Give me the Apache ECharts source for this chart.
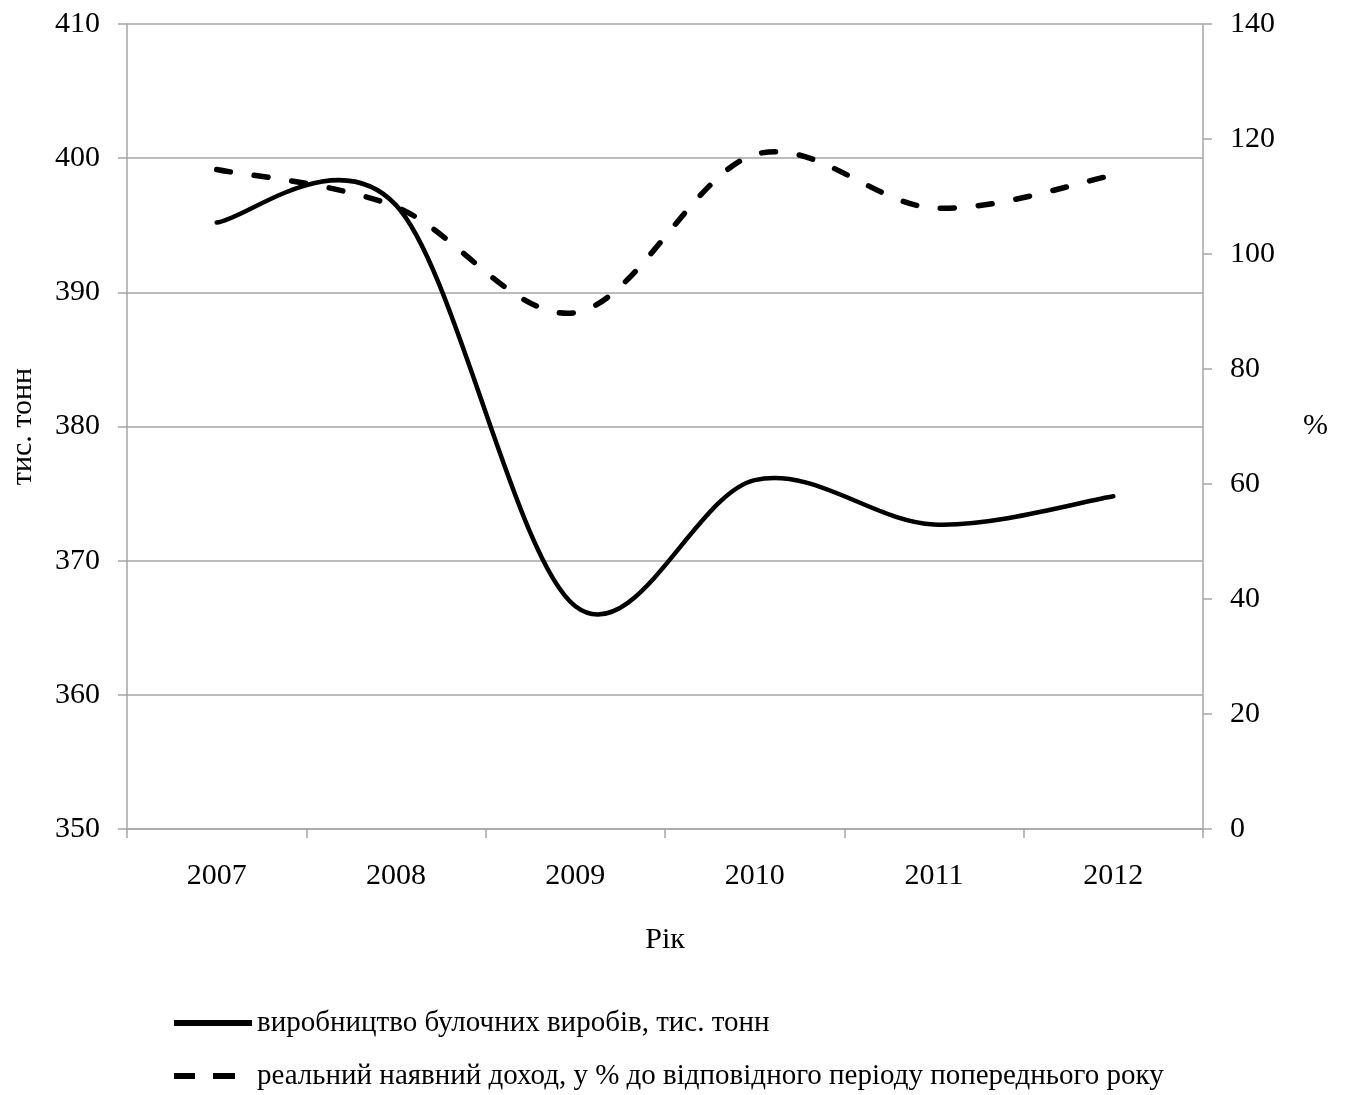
<!DOCTYPE html>
<html>
<head>
<meta charset="utf-8">
<script src="https://cdn.jsdelivr.net/npm/echarts@6/dist/echarts.min.js"></script>
<style>
html,body{margin:0;padding:0;background:#fff;}
#chart{width:1347px;height:1095px;}
</style>
</head>
<body>
<div id="chart"></div>
<script>
const years = ['2007','2008','2009','2010','2011','2012'];
const production = [395.2, 396.5, 366.6, 376.0, 372.7, 374.8];
const income = [114.7, 108.2, 89.8, 117.3, 108.0, 113.7];
const leftTicks = {min: 350, max: 410, interval: 10};
const rightTicks = {min: 0, max: 140, interval: 20};
const seriesNames = ['виробництво булочних виробів, тис. тонн', 'реальний наявний доход, у % до відповідного періоду попереднього року'];

const FONT = 'Liberation Serif';
const GRAY = '#a6a6a6';

// Smooth curve (Catmull-Rom / Excel-style) through the data, positioned via the chart's own scales.
function smoothRenderer(values, lineStyle) {
  return function (params, api) {
    if (params.dataIndex !== 0) return null;
    const pts = values.map(function (v, i) { return api.coord([i, v]); });
    const n = pts.length;
    let d = 'M' + pts[0][0] + ',' + pts[0][1];
    for (let i = 0; i < n - 1; i++) {
      const p0 = pts[Math.max(i - 1, 0)], p1 = pts[i], p2 = pts[i + 1], p3 = pts[Math.min(i + 2, n - 1)];
      const c1x = p1[0] + (p2[0] - p0[0]) / 6, c1y = p1[1] + (p2[1] - p0[1]) / 6;
      const c2x = p2[0] - (p3[0] - p1[0]) / 6, c2y = p2[1] - (p3[1] - p1[1]) / 6;
      d += 'C' + c1x + ',' + c1y + ',' + c2x + ',' + c2y + ',' + p2[0] + ',' + p2[1];
    }
    return {
      type: 'path',
      shape: {pathData: d},
      style: Object.assign({fill: null, stroke: '#000'}, lineStyle)
    };
  };
}

const legendCommon = {
  left: 174, padding: 0, itemWidth: 78, itemHeight: 6, itemGap: 0,
  textStyle: {fontFamily: FONT, fontSize: 29, color: '#000', lineHeight: 30},
  selectedMode: false
};

const chart = echarts.init(document.getElementById('chart'));
chart.setOption({
  backgroundColor: '#fff',
  animation: false,
  textStyle: {fontFamily: FONT, color: '#000'},
  grid: {left: 127, right: 144, top: 24, bottom: 266, containLabel: false, outerBoundsMode: 'none'},
  legend: [
    Object.assign({}, legendCommon, {
      top: 1008,
      data: [{name: seriesNames[0], icon: 'rect', itemStyle: {color: '#000'}}]
    }),
    Object.assign({}, legendCommon, {
      top: 1061,
      data: [{name: seriesNames[1], icon: 'path://M0,0H21V6H0Z M39,0H61V6H39Z M77.9,3H78V3.001H77.9Z', itemStyle: {color: '#000'}}]
    })
  ],
  xAxis: {
    type: 'category', data: years, boundaryGap: true,
    name: 'Рік', nameLocation: 'middle', nameGap: 96,
    nameTextStyle: {fontFamily: FONT, fontSize: 30, color: '#000'},
    axisLine: {lineStyle: {color: GRAY, width: 1.5}},
    axisTick: {show: true, interval: 0, length: 9, lineStyle: {color: GRAY, width: 1.5}},
    axisLabel: {fontFamily: FONT, fontSize: 30, color: '#000', margin: 32, interval: 0}
  },
  yAxis: [
    {
      type: 'value', position: 'left', min: leftTicks.min, max: leftTicks.max, interval: leftTicks.interval,
      name: 'тис. тонн', nameLocation: 'middle', nameGap: 89, nameRotate: 90,
      nameTextStyle: {fontFamily: FONT, fontSize: 30, color: '#000'},
      axisLine: {show: true, lineStyle: {color: GRAY, width: 1.5}},
      axisTick: {show: true, length: 9, lineStyle: {color: GRAY, width: 1.5}},
      axisLabel: {fontFamily: FONT, fontSize: 30, color: '#000', margin: 27},
      splitLine: {show: true, lineStyle: {color: GRAY, width: 1.5}}
    },
    {
      type: 'value', position: 'right', min: rightTicks.min, max: rightTicks.max, interval: rightTicks.interval,
      name: '%', nameLocation: 'middle', nameGap: 100, nameRotate: 0,
      nameTextStyle: {fontFamily: FONT, fontSize: 30, color: '#000'},
      axisLine: {show: true, lineStyle: {color: GRAY, width: 1.5}},
      axisTick: {show: true, length: 9, lineStyle: {color: GRAY, width: 1.5}},
      axisLabel: {fontFamily: FONT, fontSize: 30, color: '#000', margin: 27},
      splitLine: {show: false}
    }
  ],
  series: [
    {
      name: seriesNames[0], type: 'custom', xAxisIndex: 0, yAxisIndex: 0,
      data: production.map(function (v, i) { return [i, v]; }),
      encode: {x: 0, y: 1},
      itemStyle: {color: '#000'},
      renderItem: smoothRenderer(production, {lineWidth: 4.5, lineCap: 'round', lineJoin: 'round'})
    },
    {
      name: seriesNames[1], type: 'custom', xAxisIndex: 0, yAxisIndex: 1,
      data: income.map(function (v, i) { return [i, v]; }),
      encode: {x: 0, y: 1},
      itemStyle: {color: '#000'},
      renderItem: smoothRenderer(income, {lineWidth: 5.5, lineCap: 'round', lineDash: [14, 24]})
    }
  ]
});
</script>
</body>
</html>
